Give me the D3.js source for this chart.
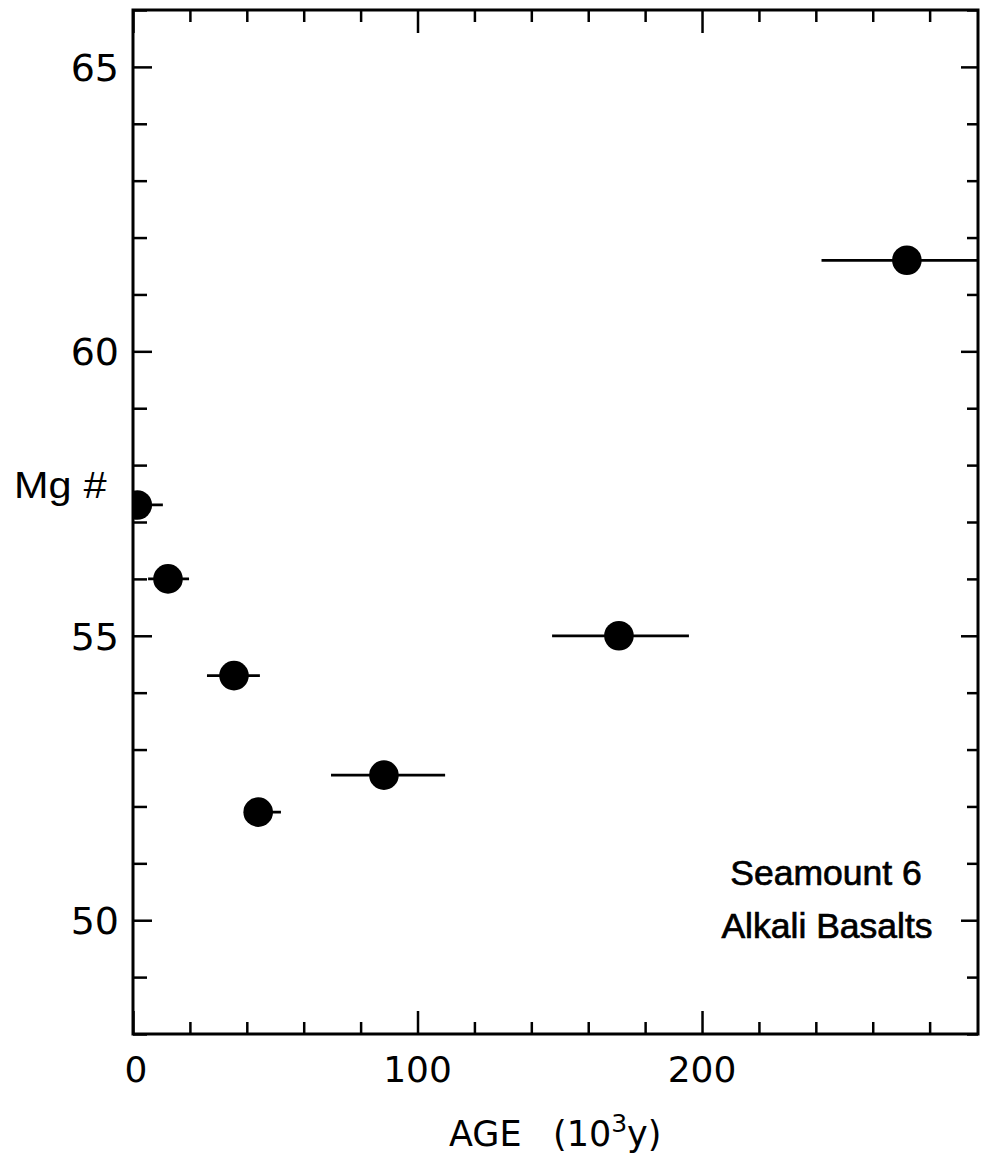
<!DOCTYPE html>
<html>
<head>
<meta charset="utf-8">
<script src="https://cdn.jsdelivr.net/npm/d3@7"></script>
<style>
  html, body { margin: 0; padding: 0; background: #fff; }
  svg { display: block; }
</style>
</head>
<body>
<svg id="chart" width="981" height="1165"></svg>
<script>
// Mg# versus age for Seamount 6 alkali basalts
const ages     = [1.5, 12.3, 35.5, 44.0, 88.2, 170.8, 272.0];
const ageLow   = [-8, 5.3, 26.0, 39.4, 69.6, 147.3, 242.0];
const ageHigh  = [10.5, 19.7, 44.6, 52.0, 109.7, 195.4, 320.0];
const mgNumber = [57.3, 56.0, 54.3, 51.9, 52.55, 55.0, 61.6];

const xTicks = d3.range(0, 297, 20);
const xLabels = [0, 100, 200];
const yTicks = d3.range(48, 67, 1);
const yLabels = [50, 55, 60, 65];

const svg = d3.select("#chart");
const box = { left: 133, right: 978, top: 10, bottom: 1034 };

const x = d3.scaleLinear().domain([0, 297]).range([box.left, box.right]);
const y = d3.scaleLinear().domain([48, 66]).range([box.bottom, box.top]);

const font = "'DejaVu Sans', sans-serif";

svg.append("defs").append("clipPath").attr("id", "plotClip")
  .append("rect").attr("x", box.left).attr("y", box.top)
  .attr("width", box.right - box.left).attr("height", box.bottom - box.top);

// Inward ticks on all four sides, longer at the labelled values
function styleTicks(g, major, longLen, shortLen, dir, horizontal) {
  g.select(".domain").remove();
  g.selectAll(".tick line")
    .attr("stroke", "#000").attr("stroke-width", 2.5)
    .each(function(d) {
      const len = (major.includes(d) ? longLen : shortLen) * dir;
      const el = d3.select(this);
      if (horizontal) el.attr("x2", len);
      else el.attr("y2", len);
    });
  g.selectAll(".tick text").remove();
}

const gBottom = svg.append("g").attr("transform", `translate(0,${box.bottom})`)
  .call(d3.axisBottom(x).tickValues(xTicks).tickSize(-12));
styleTicks(gBottom, xLabels, 23, 12, -1, false);

const gTop = svg.append("g").attr("transform", `translate(0,${box.top})`)
  .call(d3.axisTop(x).tickValues(xTicks).tickSize(-12));
styleTicks(gTop, xLabels, 23, 12, 1, false);

const gLeft = svg.append("g").attr("transform", `translate(${box.left},0)`)
  .call(d3.axisLeft(y).tickValues(yTicks).tickSize(-14));
styleTicks(gLeft, yLabels, 19, 14, 1, true);

const gRight = svg.append("g").attr("transform", `translate(${box.right},0)`)
  .call(d3.axisRight(y).tickValues(yTicks).tickSize(-12));
styleTicks(gRight, yLabels, 17, 11, -1, true);

// Frame
svg.append("rect")
  .attr("x", box.left).attr("y", box.top)
  .attr("width", box.right - box.left).attr("height", box.bottom - box.top)
  .attr("fill", "none").attr("stroke", "#000").attr("stroke-width", 3);

// Tick labels
svg.append("g").selectAll("text").data(yLabels).join("text")
  .attr("x", box.left - 14).attr("y", d => y(d) + 14)
  .attr("text-anchor", "end")
  .attr("font-family", font).attr("font-size", 38)
  .text(d => d);

svg.append("g").selectAll("text").data(xLabels).join("text")
  .attr("x", d => x(d) + (d === 0 ? 3 : 0)).attr("y", 1082)
  .attr("text-anchor", "middle")
  .attr("font-family", font).attr("font-size", 36)
  .text(d => d);

// Axis titles
const xt = svg.append("text")
  .attr("x", 449).attr("y", 1146)
  .attr("font-family", font).attr("font-size", 35);
xt.append("tspan").text("AGE");
xt.append("tspan").attr("x", 553).text("(10");
xt.append("tspan").attr("dy", -14).attr("font-size", 25).text("3");
xt.append("tspan").attr("dy", 14).text("y)");

svg.append("text")
  .attr("x", 14).attr("y", 498)
  .attr("font-family", "'Liberation Sans', sans-serif").attr("font-size", 36)
  .attr("textLength", 92).attr("lengthAdjust", "spacingAndGlyphs")
  .text("Mg ")
  .append("tspan").attr("font-style", "italic").text("#");

// Error bars and points
const pts = ages.map((a, i) => ({ a, lo: ageLow[i], hi: ageHigh[i], mg: mgNumber[i] }));
const plot = svg.append("g").attr("clip-path", "url(#plotClip)");

plot.selectAll("line.err").data(pts).join("line")
  .attr("class", "err")
  .attr("x1", d => x(d.lo)).attr("x2", d => x(d.hi))
  .attr("y1", d => y(d.mg)).attr("y2", d => y(d.mg))
  .attr("stroke", "#000").attr("stroke-width", 2.8);

plot.selectAll("circle").data(pts).join("circle")
  .attr("cx", d => x(d.a)).attr("cy", d => y(d.mg))
  .attr("r", 14.8).attr("fill", "#000");

// Annotation
const note = svg.append("g")
  .attr("font-family", "'Liberation Sans', sans-serif").attr("font-size", 35.5)
  .attr("text-anchor", "middle").attr("stroke", "#000").attr("stroke-width", 0.7);
note.append("text").attr("x", 826).attr("y", 885).text("Seamount 6");
note.append("text").attr("x", 827).attr("y", 938).text("Alkali Basalts");
</script>
</body>
</html>
